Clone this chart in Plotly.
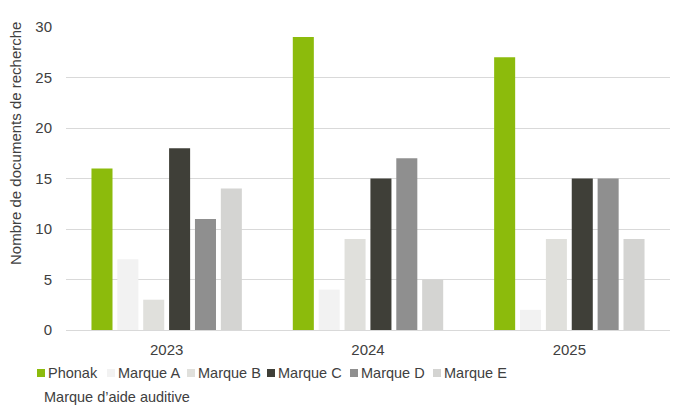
import plotly.graph_objects as go

years = ["2023", "2024", "2025"]
brands = ["Phonak", "Marque A", "Marque B", "Marque C", "Marque D", "Marque E"]
phonak = [16, 29, 27]
marque_a = [7, 4, 2]
marque_b = [3, 9, 9]
marque_c = [18, 15, 15]
marque_d = [11, 17, 15]
marque_e = [14, 5, 9]
series = [phonak, marque_a, marque_b, marque_c, marque_d, marque_e]
colors = ["#8cbb0c", "#f2f2f2", "#e0e0dc", "#3f3f38", "#8f8f8f", "#d4d4d2"]
y_ticks = [0, 5, 10, 15, 20, 25, 30]

W, H = 681, 415
ML, MR, MT, MB = 66, 11, 27, 85
PW, PH = W - ML - MR, H - MT - MB
FONT = "Liberation Sans, Arial, sans-serif"
TXT = "#404040"
FS = 14.5

fig = go.Figure()
for name, vals, col in zip(brands, series, colors):
    fig.add_trace(go.Bar(x=years, y=vals, name=name, marker=dict(color=col, line=dict(width=0)),
                         showlegend=False))

def px_x(px):
    return (px - ML) / PW

def px_y(py):
    return (H - MB - py) / PH

# custom legend
leg_x = [37, 107, 187, 267, 350, 433]
leg_y = 373
shapes = []
annotations = []
for name, col, lx in zip(brands, colors, leg_x):
    shapes.append(dict(type="rect", xref="paper", yref="paper",
                       x0=px_x(lx), x1=px_x(lx + 8), y0=px_y(leg_y + 4), y1=px_y(leg_y - 4),
                       fillcolor=col, line=dict(width=0), layer="above"))
    annotations.append(dict(text=name, xref="paper", yref="paper", x=px_x(lx + 9), y=px_y(leg_y),
                            xanchor="left", yanchor="middle", showarrow=False,
                            font=dict(family=FONT, size=FS, color=TXT)))

annotations.append(dict(text="Marque d’aide auditive", xref="paper", yref="paper",
                        x=px_x(42), y=px_y(397), xanchor="left", yanchor="middle", showarrow=False,
                        font=dict(family=FONT, size=FS, color=TXT)))
annotations.append(dict(text="Nombre de documents de recherche", xref="paper", yref="paper",
                        x=px_x(15), y=px_y(144), xanchor="center", yanchor="middle",
                        textangle=-90, showarrow=False,
                        font=dict(family=FONT, size=15, color=TXT)))

fig.update_layout(
    width=W, height=H,
    margin=dict(l=ML, r=MR, t=MT, b=MB),
    paper_bgcolor="white", plot_bgcolor="white",
    barmode="group", bargap=0.229, bargroupgap=0.187,
    font=dict(family=FONT, size=FS, color=TXT),
    shapes=shapes, annotations=annotations,
    xaxis=dict(showgrid=False, showline=True, linecolor="#d9d9d9", linewidth=1,
               ticks="outside", ticklen=6, tickcolor="rgba(0,0,0,0)",
               tickfont=dict(family=FONT, size=15, color=TXT)),
    yaxis=dict(range=[0, 30], tickvals=y_ticks, showgrid=True, gridcolor="#d9d9d9", gridwidth=1,
               zeroline=False, showline=False,
               ticks="outside", ticklen=10, tickcolor="rgba(0,0,0,0)",
               tickfont=dict(family=FONT, size=15, color=TXT)),
)

fig.write_html("out.html", config={"displayModeBar": False},
               post_script="document.body.style.margin='0';document.body.style.padding='0';")
